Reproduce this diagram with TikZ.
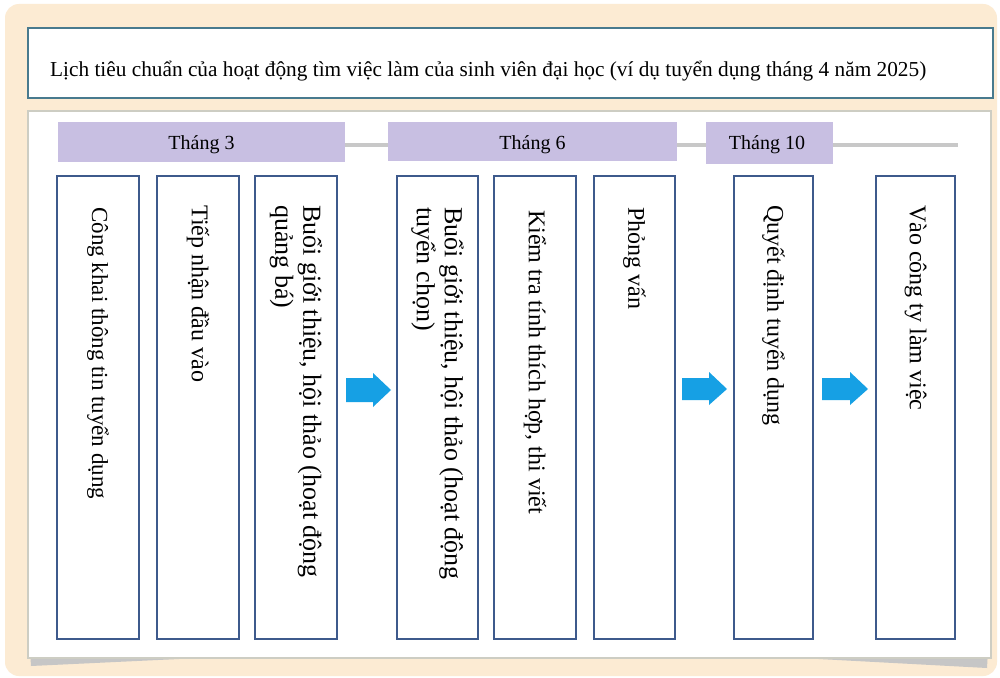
\documentclass[tikz,border=0pt]{standalone}
\usepackage{fontspec}
\setmainfont{Liberation Serif}
\begin{document}
\begin{tikzpicture}[x=1pt,y=-1pt,
  every node/.style={inner sep=0pt, font=\fontsize{20}{23}\selectfont},
  stepbox/.style={draw=boxblue, line width=2pt, fill=white},
  monthbar/.style={fill=lavender},
  steptext/.style={rotate=-90, anchor=west, align=left, font=\fontsize{#1}{28}\selectfont},
  steptext/.default=24,
  flowarrow/.style={fill=arrowblue}
]
\definecolor{cream}{RGB}{252,235,211}
\definecolor{boxblue}{RGB}{62,90,140}
\definecolor{lavender}{RGB}{200,191,226}
\definecolor{arrowblue}{RGB}{22,160,228}
\definecolor{titleedge}{RGB}{72,122,142}
\definecolor{paneledge}{RGB}{205,205,195}
\definecolor{railgray}{RGB}{200,200,200}

% page and cream background
\fill[white] (0,0) rectangle (1000,677);
\useasboundingbox (0,0) rectangle (1000,677);
\fill[cream, rounded corners=14pt] (5,4) rectangle (997,676);

% title box
\node[draw=titleedge, line width=2pt, fill=white, minimum width=965pt, minimum height=70pt, anchor=north west] (title) at (27,27) {};
\node[anchor=base west, font=\fontsize{21.3}{24}\selectfont] (titletext) at (50,77) {Lịch tiêu chuẩn của hoạt động tìm việc làm của sinh viên đại học (ví dụ tuyển dụng tháng 4 năm 2025)};

% main panel with curled shadow
\fill[gray!45] (30,650) -- (31,666) -- (200,658) -- (800,658) -- (987,668) -- (988,650) -- cycle;
\node[draw=paneledge, line width=1.5pt, fill=white, minimum width=963pt, minimum height=547pt, anchor=north west] (panel) at (27,110) {};

% timeline rail and month bars
\coordinate (railstart) at (345,145);
\coordinate (railend) at (958,145);
\draw[railgray, line width=4pt] (railstart) -- (railend);
\node[monthbar, minimum width=287pt, minimum height=40pt] (m3) at (201.5,142) {};
\node[monthbar, minimum width=289pt, minimum height=39pt] (m6) at (532.5,141.5) {};
\node[monthbar, minimum width=127pt, minimum height=42pt] (m10) at (769.5,143) {};
\node[anchor=base] (m3t) at (201.5,149) {Tháng 3};
\node[anchor=base] (m6t) at (532.5,149) {Tháng 6};
\node[anchor=base] (m10t) at (767,149) {Tháng 10};

% step boxes
\foreach \n/\xa/\xb in {1/56/138, 2/156/238, 3/254/336, 4/396/477, 5/493/575, 6/593/674, 7/733/812, 8/875/954}{
  \node[stepbox, minimum width={\xb-\xa}, minimum height=463pt, anchor=north west] (s\n) at (\xa,175) {};
}

% step labels, read top to bottom
\node[steptext=23] (t1) at ([yshift=-32pt]s1.north) {Công khai thông tin tuyển dụng};
\node[steptext] (t2) at ([yshift=-30pt]s2.north) {Tiếp nhận đầu vào};
\node[steptext=26] (t3) at ([yshift=-30pt]s3.north) {Buổi giới thiệu, hội thảo (hoạt động\\quảng bá)};
\node[steptext=26] (t4) at ([yshift=-32pt]s4.north) {Buổi giới thiệu, hội thảo (hoạt động\\tuyển chọn)};
\node[steptext] (t5) at ([yshift=-35pt]s5.north) {Kiểm tra tính thích hợp, thi viết};
\node[steptext] (t6) at ([yshift=-32pt]s6.north) {Phỏng vấn};
\node[steptext] (t7) at ([yshift=-30pt]s7.north) {Quyết định tuyển dụng};
\node[steptext] (t8) at ([yshift=-30pt]s8.north) {Vào công ty làm việc};

% block arrows between the phases
\fill[flowarrow] (346,378) -- (373,378) -- (373,373) -- (391,390) -- (373,407) -- (373,402) -- (346,402) -- cycle;
\fill[flowarrow] (682,378) -- (709,378) -- (709,372) -- (727,389) -- (709,405) -- (709,400) -- (682,400) -- cycle;
\fill[flowarrow] (822,378) -- (850,378) -- (850,372) -- (868,389) -- (850,405) -- (850,400) -- (822,400) -- cycle;
\end{tikzpicture}
\end{document}
